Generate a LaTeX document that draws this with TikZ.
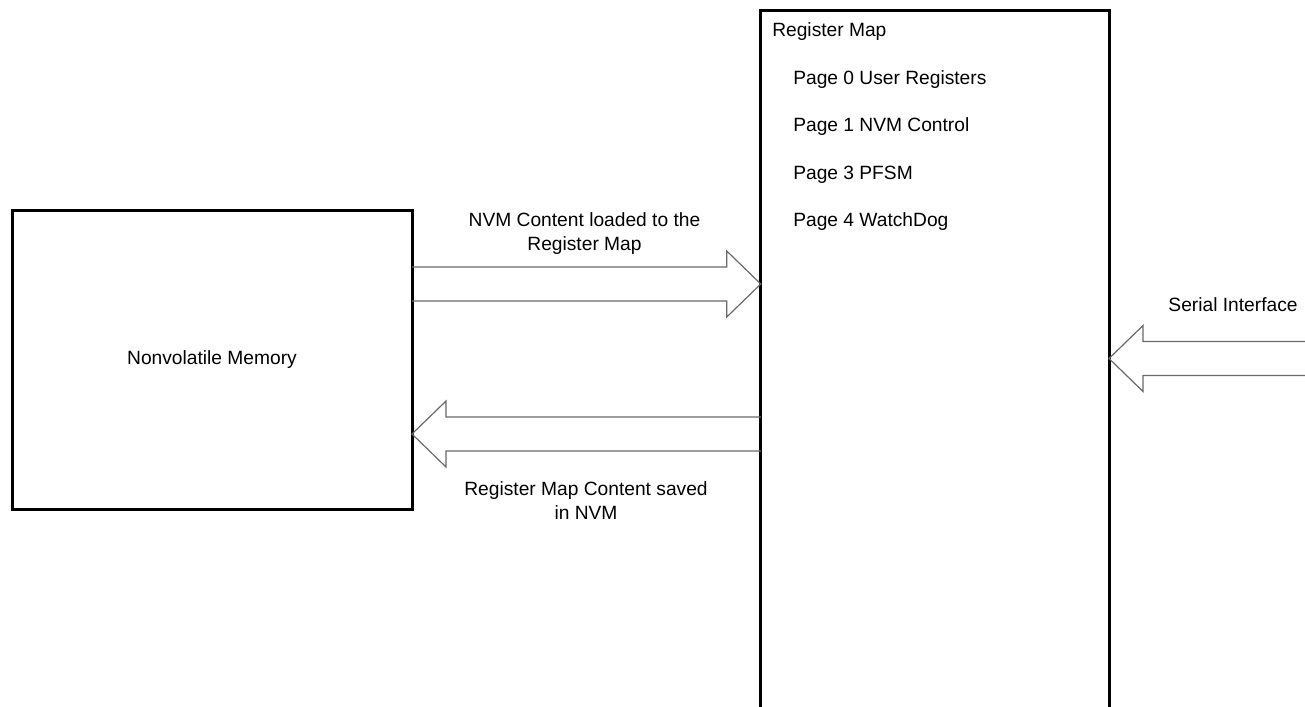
\documentclass[tikz,border=0pt]{standalone}
\usepackage{fontspec}
\setmainfont{Liberation Sans}
\usetikzlibrary{calc, positioning}
\definecolor{arrowline}{RGB}{105,105,105}
\tikzset{
    box/.style={rectangle, draw, line width=2.25pt, outer sep=0pt, align=center, font=\fontsize{14.4}{18}\selectfont},
    txt/.style={inner sep=0pt, align=center, font=\fontsize{14.4}{18}\selectfont},
    bigarrow/.style={draw=arrowline, line width=0.9pt, line join=miter,
        to path={let \p1=(\tikztostart), \p2=(\tikztotarget), \n1={ifthenelse(\x2>\x1,25.5,-25.5)} in
            (\x1,\y1+12.75pt) -- (\x2-\n1,\y1+12.75pt) -- (\x2-\n1,\y1+24.75pt) -- (\x2,\y2)
            -- (\x2-\n1,\y1-24.75pt) -- (\x2-\n1,\y1-12.75pt) -- (\x1,\y1-12.75pt)}}
}

\begin{document}
\begin{tikzpicture}[x=0.75pt, y=-0.75pt]
    \useasboundingbox (0,0) rectangle (1305,706);

    % the two blocks
    \node[box, minimum width=300pt, minimum height=224.5pt] (nvm) at (212,359.7) {Nonvolatile Memory};
    \node[box, minimum width=261.2pt, minimum height=591.75pt] (regmap) at (934.9,405.5) {};

    % register map contents
    \node[txt, anchor=base west] (regtitle) at (772,37) {Register Map};
    \node[txt, anchor=base west] (page0) at (793,85) {Page 0 User Registers};
    \node[txt, anchor=base west] (page1) at (793,132) {Page 1 NVM Control};
    \node[txt, anchor=base west] (page3) at (793,180) {Page 3 PFSM};
    \node[txt, anchor=base west] (page4) at (793,226) {Page 4 WatchDog};

    % arrow ends
    \coordinate (load-a) at (nvm.east |- 0,284);
    \coordinate (load-b) at (regmap.west |- 0,284);
    \coordinate (save-a) at (regmap.west |- 0,434);
    \coordinate (save-b) at (nvm.east |- 0,434);
    \coordinate (serial-a) at (1340,358.5);
    \coordinate (serial-b) at (regmap.east |- 0,358.5);

    \draw[bigarrow] (load-a) to (load-b);
    \draw[bigarrow] (save-a) to (save-b);
    \draw[bigarrow] (serial-a) to (serial-b);

    % labels
    \node[txt] (loadlbl) at (584.5,233.7) {NVM Content loaded to the\\Register Map};
    \node[txt] (savelbl) at (586,500.7) {Register Map Content saved\\in NVM};
    \node[txt, anchor=base] (seriallbl) at (1233,311.7) {Serial Interface};
\end{tikzpicture}
\end{document}
